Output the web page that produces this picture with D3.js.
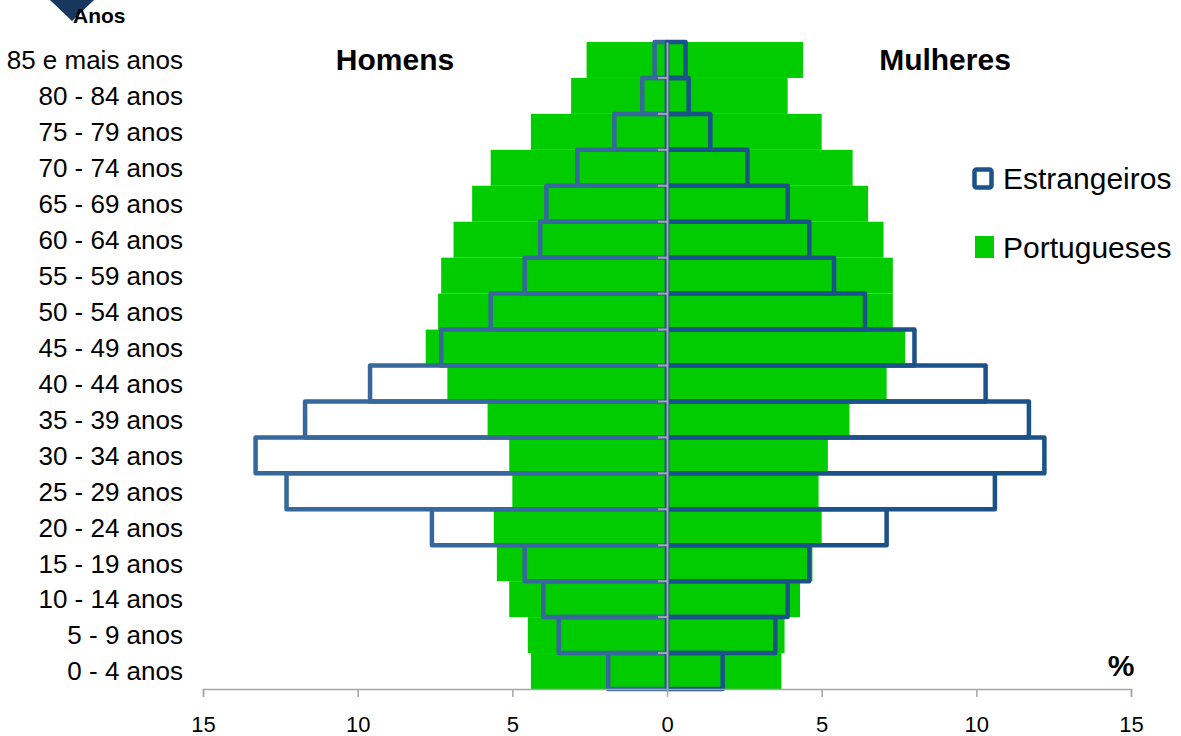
<!doctype html>
<html>
<head>
<meta charset="utf-8">
<style>
    body { margin: 0; background: #fff; font-family: "Liberation Sans", Arial, sans-serif; }
    .lbl { font-size: 26px; fill: #000; }
    .tt { font-size: 30px; font-weight: bold; fill: #000; }
</style>
<script src="https://d3js.org/d3.v7.min.js"></script>
</head>
<body>
<svg width="1181" height="736"></svg>
<script>
    // age groups, top to bottom
    var ages = ["85 e mais anos", "80 - 84 anos", "75 - 79 anos", "70 - 74 anos", "65 - 69 anos",
        "60 - 64 anos", "55 - 59 anos", "50 - 54 anos", "45 - 49 anos", "40 - 44 anos",
        "35 - 39 anos", "30 - 34 anos", "25 - 29 anos", "20 - 24 anos", "15 - 19 anos",
        "10 - 14 anos", "5 - 9 anos", "0 - 4 anos"];

    // % of population
    var portHomens = [2.6, 3.1, 4.4, 5.7, 6.3, 6.9, 7.3, 7.4, 7.8, 7.1, 5.8, 5.1, 5.0, 5.6, 5.5, 5.1, 4.5, 4.4];
    var portMulheres = [4.4, 3.9, 5.0, 6.0, 6.5, 7.0, 7.3, 7.3, 7.7, 7.1, 5.9, 5.2, 4.9, 5.0, 4.7, 4.3, 3.8, 3.7];
    var estHomens = [0.4, 0.8, 1.7, 2.9, 3.9, 4.1, 4.6, 5.7, 7.3, 9.6, 11.7, 13.3, 12.3, 7.6, 4.6, 4.0, 3.5, 1.9];
    var estMulheres = [0.6, 0.7, 1.4, 2.6, 3.9, 4.6, 5.4, 6.4, 8.0, 10.3, 11.7, 12.2, 10.6, 7.1, 4.6, 3.9, 3.5, 1.8];

    var xTicks = [-15, -10, -5, 0, 5, 10, 15];

    var svg = d3.select("svg");
    var green = "#00cc00", blueL = "#37689b", blueR = "#1a5289", grey = "#a6a6a6";

    var x = d3.scaleLinear().domain([-15, 15]).range([203, 1131]);
    var y = d3.scaleBand().domain(ages).range([42, 689]).padding(0);

    // portugueses (filled)
    svg.append("g").selectAll("rect").data(ages).enter().append("rect")
        .attr("x", function(d, i) { return x(-portHomens[i]); })
        .attr("y", function(d) { return y(d); })
        .attr("width", function(d, i) { return x(0) - x(-portHomens[i]); })
        .attr("height", y.bandwidth())
        .attr("fill", green);
    svg.append("g").selectAll("rect").data(ages).enter().append("rect")
        .attr("x", x(0))
        .attr("y", function(d) { return y(d); })
        .attr("width", function(d, i) { return x(portMulheres[i]) - x(0); })
        .attr("height", y.bandwidth())
        .attr("fill", green);

    // estrangeiros (outlined)
    svg.append("g").selectAll("rect").data(ages).enter().append("rect")
        .attr("x", function(d, i) { return x(-estHomens[i]); })
        .attr("y", function(d) { return y(d); })
        .attr("width", function(d, i) { return x(0) - x(-estHomens[i]); })
        .attr("height", y.bandwidth())
        .attr("fill", "none")
        .attr("stroke", blueL)
        .attr("stroke-width", 4.5)
        .attr("stroke-linejoin", "round");
    svg.append("g").selectAll("rect").data(ages).enter().append("rect")
        .attr("x", x(0))
        .attr("y", function(d) { return y(d); })
        .attr("width", function(d, i) { return x(estMulheres[i]) - x(0); })
        .attr("height", y.bandwidth())
        .attr("fill", "none")
        .attr("stroke", blueR)
        .attr("stroke-width", 4.5)
        .attr("stroke-linejoin", "round");

    // vertical category axis at zero
    var yAxis = svg.append("g")
        .attr("transform", "translate(" + x(0) + ",0)")
        .call(d3.axisLeft(y).tickSize(0).tickFormat(""));
    yAxis.select(".domain").attr("stroke", grey).attr("stroke-width", 2);
    // ticks between categories
    yAxis.selectAll("line.sep").data(ages.slice(1)).enter().append("line")
        .attr("class", "sep")
        .attr("x1", -9).attr("x2", 0)
        .attr("y1", function(d) { return y(d); })
        .attr("y2", function(d) { return y(d); })
        .attr("stroke", grey).attr("stroke-width", 2);

    // category labels
    svg.append("g").selectAll("text").data(ages).enter().append("text")
        .attr("class", "lbl")
        .attr("x", 183)
        .attr("y", function(d) { return y(d) + y.bandwidth() / 2; })
        .attr("dy", "0.36em")
        .attr("text-anchor", "end")
        .text(function(d) { return d; });

    // bottom axis
    var xAxis = svg.append("g")
        .attr("transform", "translate(0," + 689 + ")")
        .call(d3.axisBottom(x).tickValues(xTicks).tickSize(8).tickPadding(35)
            .tickFormat(function(d) { return Math.abs(d); }));
    xAxis.select(".domain").attr("stroke", grey).attr("stroke-width", 1.5);
    xAxis.selectAll(".tick line").attr("stroke", grey).attr("stroke-width", 1.5);
    xAxis.selectAll(".tick text").attr("font-size", "22px").attr("font-family", "Liberation Sans, Arial, sans-serif")
        .attr("fill", "#000").attr("dy", "0");

    // titles
    svg.append("text").attr("class", "tt").attr("x", 395).attr("y", 70).attr("text-anchor", "middle").text("Homens");
    svg.append("text").attr("class", "tt").attr("x", 945).attr("y", 70).attr("text-anchor", "middle").text("Mulheres");
    svg.append("text").attr("class", "tt").attr("x", 1121).attr("y", 676).attr("text-anchor", "middle").text("%");

    // "Anos" marker
    svg.append("path").attr("d", "M50,0 L94,0 L72,21 Z").attr("fill", "#17375e");
    svg.append("text").attr("x", 73).attr("y", 23).attr("font-size", "21px").attr("font-weight", "bold").text("Anos");

    // legend
    var leg = svg.append("g");
    leg.append("rect").attr("x", 974.5).attr("y", 169.5).attr("width", 17).attr("height", 18)
        .attr("rx", 2).attr("fill", "#fff").attr("stroke", blueR).attr("stroke-width", 4.5);
    leg.append("text").attr("x", 1003).attr("y", 189).attr("font-size", "30px").text("Estrangeiros");
    leg.append("rect").attr("x", 975).attr("y", 236).attr("width", 19).attr("height", 22).attr("fill", green);
    leg.append("text").attr("x", 1003).attr("y", 258).attr("font-size", "30px").text("Portugueses");
</script>
</body>
</html>
